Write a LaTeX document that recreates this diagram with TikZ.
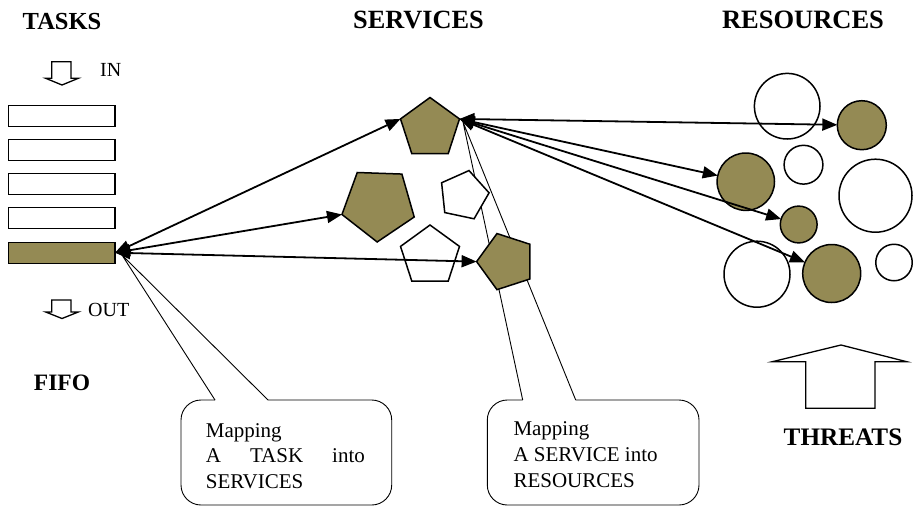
\documentclass[tikz,border=0pt]{standalone}
\usepackage{fontspec}
\setmainfont{Liberation Serif}
\usetikzlibrary{shapes.geometric,arrows.meta}
\definecolor{fillolive}{RGB}{148,138,84}
\tikzset{
  title/.style={font=\bfseries\fontsize{#1}{#1}\selectfont, inner sep=0pt, anchor=base},
  plain/.style={font=\fontsize{20}{24}\selectfont, inner sep=0pt, anchor=base west},
  ctext/.style={font=\fontsize{21}{25}\selectfont, inner sep=0pt, anchor=base west},
  tbox/.style={draw, line width=1.3pt, minimum width=106.7pt, minimum height=21pt, inner sep=0pt, outer sep=0pt},
  pent/.style={regular polygon, regular polygon sides=5, draw, line width=1.5pt, inner sep=0pt, outer sep=0pt},
  res/.style={circle, draw, line width=1.5pt, inner sep=0pt, outer sep=0pt},
  full/.style={fill=fillolive},
  hollow/.style={fill=white},
  biarrow/.style={line width=1.8pt, {Triangle[length=15pt,width=12pt]}-{Triangle[length=15pt,width=12pt]}},
  callline/.style={line width=0.9pt},
  blockarrow/.style={line width=1.3pt, line join=miter}
}
\begin{document}
\begin{tikzpicture}[x=1pt,y=-1pt]
\useasboundingbox (0,0) rectangle (913,507);

% callouts (drawn first, under the shapes)
\coordinate (ap1) at (122,255);
\coordinate (ap2) at (463,122);
\draw[callline, rounded corners=20pt] (268,400) -- (391.7,400) -- (391.7,505) -- (181,505) -- (181,400) -- (215,400);
\draw[callline] (215,400) -- (ap1) -- (268,400);
\draw[callline, rounded corners=20pt] (575.7,400) -- (699,400) -- (699,505) -- (487.3,505) -- (487.3,400) -- (522.7,400);
\draw[callline] (522.7,400) -- (ap2) -- (575.7,400);

\node[ctext] (c1a) at (205.7,437) {Mapping};
\node[ctext] (c1b) at (205.7,462) {\makebox[159pt][s]{A TASK into}};
\node[ctext] (c1c) at (205.7,488) {SERVICES};
\node[ctext] (c2a) at (513.3,435.5) {Mapping};
\node[ctext] (c2b) at (513.3,461.5) {A SERVICE into};
\node[ctext] (c2c) at (513.3,487) {RESOURCES};

% titles
\node[title=24.5] (ttasks) at (62,29.3) {TASKS};
\node[title=26.3] (tserv) at (418.5,28.3) {SERVICES};
\node[title=26.5] (tres) at (803,28) {RESOURCES};
\node[title=23.5] (tfifo) at (62,390) {FIFO};
\node[title=25.2] (tthr) at (843,445) {THREATS};
\node[plain] (tin) at (100,76) {IN};
\node[plain] (tout) at (88,316) {OUT};

% block arrows
\draw[blockarrow] (51.7,61.7) -- (71,61.7) -- (71,78.3) -- (78.3,78.3) -- (62,85) -- (45.7,78.3) -- (51.7,78.3) -- cycle;
\draw[blockarrow] (51.7,300) -- (71,300) -- (71,312) -- (78.3,312) -- (62,318.5) -- (45.7,312) -- (51.7,312) -- cycle;
\draw[blockarrow] (772.3,361.7) -- (841,345) -- (906.7,361.7) -- (875,361.7) -- (875,408.3) -- (805.7,408.3) -- (805.7,361.7) -- cycle;

% FIFO boxes
\node[tbox] (t1) at (61.7,116.3) {};
\node[tbox] (t2) at (61.7,150) {};
\node[tbox] (t3) at (61.7,184) {};
\node[tbox] (t4) at (61.7,218) {};
\node[tbox, full] (t5) at (61.7,252.7) {};

% services
\node[pent, full, minimum size=62pt] (s1) at (430,128.5) {};
\node[pent, full, minimum size=76pt, regular polygon rotate=178] (s2) at (378.5,204) {};
\node[pent, hollow, minimum size=51pt, regular polygon rotate=-12] (s3) at (463.7,195.5) {};
\node[pent, hollow, minimum size=62pt] (s4) at (430,256) {};
\node[pent, full, minimum size=59pt, regular polygon rotate=90] (s5) at (506.1,261.6) {};

% resources
\node[res, hollow, minimum size=65.6pt] (r1) at (787.2,106.2) {};
\node[res, full, minimum size=49pt] (r2) at (861.8,125.2) {};
\node[res, hollow, minimum size=38.8pt] (r3) at (803.5,164.7) {};
\node[res, full, minimum size=57.4pt] (r4) at (745.8,181.7) {};
\node[res, hollow, minimum size=73pt] (r5) at (875.5,195.7) {};
\node[res, full, minimum size=36.8pt] (r6) at (798.7,224.5) {};
\node[res, hollow, minimum size=66pt] (r7) at (757,274.2) {};
\node[res, full, minimum size=58pt] (r8) at (831.7,273.5) {};
\node[res, hollow, minimum size=36.5pt] (r9) at (894,262.5) {};

% connectors
\draw[biarrow] (t5.east) -- (s1.corner 2);
\draw[biarrow] (t5.east) -- (s2.corner 5);
\draw[biarrow] (t5.east) -- (s5.corner 1);
\draw[biarrow] (s1.corner 5) -- (r2);
\draw[biarrow] (s1.corner 5) -- (r4);
\draw[biarrow] (s1.corner 5) -- (r6);
\draw[biarrow] (s1.corner 5) -- (r8);
\end{tikzpicture}
\end{document}
